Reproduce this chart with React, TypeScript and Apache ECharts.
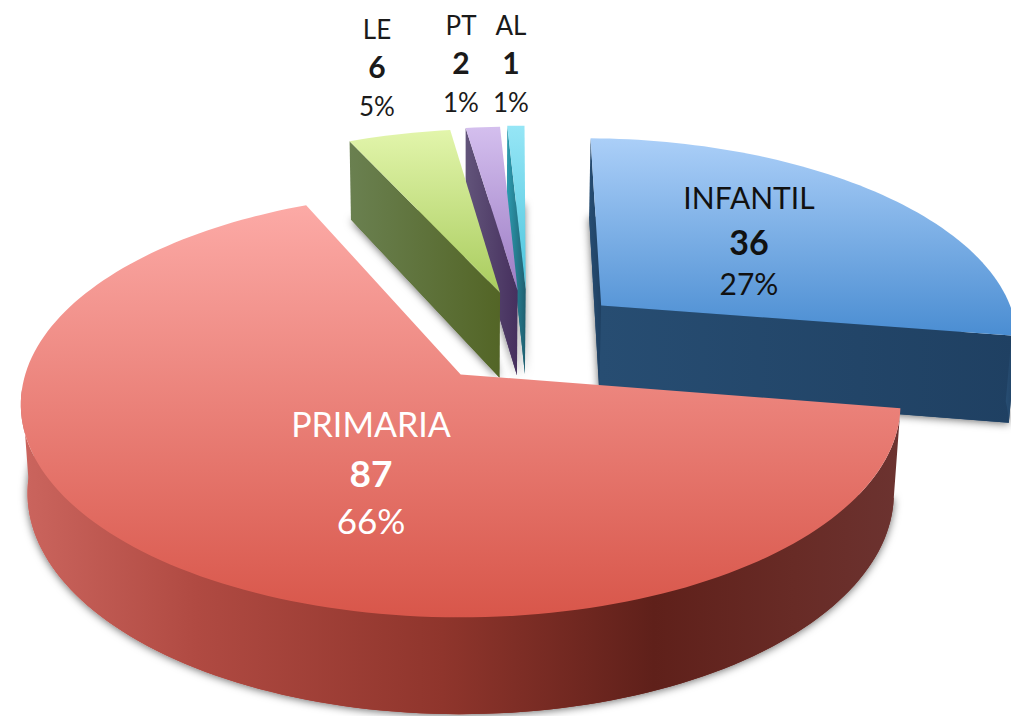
import React, { useEffect, useRef } from "react";
import * as echarts from "echarts";

const categories = ["INFANTIL", "PRIMARIA", "LE", "PT", "AL"];
const values = [36, 87, 6, 2, 1];
const percentLabels = ["27%", "66%", "5%", "1%", "1%"];

const TOTAL = values.reduce((a, b) => a + b, 0);
const WIDTH = 1011;
const HEIGHT = 716;
// Projective camera of the tilted pie (unit circle -> screen)
const CX = 462, CY = 375, C = 435.6, A = 208.8, K = 0.141;
const BOTTOM_H = 90, BOTTOM_Q = 0.02, BOTTOM_C = 1.005;
const FIRST_ANGLE = 0.9;           // degrees clockwise from the back of the pie
const EXPLODE = 0.242;
const ORIGIN = [0.145, -0.194];    // pie centre relative to the camera origin
const WALL_MIN_V = 0.05;           // outer wall shows only on the viewer's side
const nudgeX = [2, 0, 5, 4, 5];
const nudgeY = [0, 0, 2, 1, 0];
const arcScaleX = [0.985, 1, 1, 1, 1];
const layerOf = [4, 5, 3, 2, 1];

const topFills = [
  ["#abcff8", "#4a8dd2"],
  ["#fcaaa6", "#d8564a"],
  ["#e2f5ab", "#a9cc5e"],
  ["#d4bfee", "#9c7cc4"],
  ["#96e6f6", "#4cc5dd"],
];
const faceFills = [
  ["#274d72", "#1f4062"],
  ["#8e352c", "#6c3330"],
  ["#6a8050", "#536526"],
  ["#62547a", "#46305e"],
  ["#2c9cb0", "#1f5f70"],
];
const labelBoxes = [
  { x: 749, y: [197, 241, 283], name: 30, big: 34, pct: 30, color: "#111111" },
  { x: 371, y: [423, 472, 520], name: 34, big: 37, pct: 35, color: "#ffffff" },
  { x: 377, y: [29, 66, 106], name: 26, big: 30, pct: 26, color: "#1a1a1a" },
  { x: 461, y: [25, 62, 102], name: 26, big: 30, pct: 26, color: "#1a1a1a" },
  { x: 511, y: [25, 62, 102], name: 26, big: 30, pct: 26, color: "#1a1a1a" },
];

const rad = (d: number) => (d * Math.PI) / 180;

function top(U: number, V: number, nx: number, ny: number) {
  const w = 1 - K * V;
  return [CX + (C * U) / w + nx, CY + (A * V) / w + ny];
}
function bottom(U: number, V: number, nx: number, ny: number) {
  const w = 1 - K * V + BOTTOM_Q;
  return [CX + (C * BOTTOM_C * U) / w + nx, CY + (A * V + BOTTOM_H) / w + ny];
}

const gradV = (c: string[]) =>
  new echarts.graphic.LinearGradient(0, 0, 0, 1, [
    { offset: 0, color: c[0] },
    { offset: 1, color: c[1] },
  ]);
const gradH = (c: string[]) =>
  new echarts.graphic.LinearGradient(0, 0, 1, 0, [
    { offset: 0, color: c[0] },
    { offset: 1, color: c[1] },
  ]);
const primaryWall = () =>
  new echarts.graphic.LinearGradient(0, 0, 1, 0, [
    { offset: 0, color: "#cb655e" },
    { offset: 0.2, color: "#b04a42" },
    { offset: 0.48, color: "#8f352c" },
    { offset: 0.72, color: "#5f201a" },
    { offset: 0.88, color: "#682b26" },
    { offset: 1, color: "#6c3330" },
  ]);

function renderItem(params: any, api: any) {
  const i = params.dataIndex;
  const before = values.slice(0, i).reduce((a, b) => a + b, 0);
  const a0 = FIRST_ANGLE + (before / TOTAL) * 360;
  const a1 = a0 + (api.value(0) / TOTAL) * 360;
  const mid = rad((a0 + a1) / 2);
  const du = ORIGIN[0] + EXPLODE * Math.sin(mid);
  const dv = ORIGIN[1] - EXPLODE * Math.cos(mid);
  const nx = nudgeX[i];
  const ny = nudgeY[i];

  const steps = Math.max(4, Math.round((a1 - a0) / 1.5));
  const arc: number[][] = [];
  const frontIdx: number[] = [];
  for (let s = 0; s <= steps; s++) {
    const t = rad(a0 + ((a1 - a0) * s) / steps);
    arc.push([du + arcScaleX[i] * Math.sin(t), dv - Math.cos(t)]);
    if (-Math.cos(t) >= WALL_MIN_V) frontIdx.push(s);
  }
  const topArc = arc.map((p) => top(p[0], p[1], nx, ny));
  const botArc = arc.map((p) => bottom(p[0], p[1], nx, ny));
  const apexT = top(du, dv, nx, ny);
  const apexB = bottom(du, dv, nx, ny);
  const base = layerOf[i] * 10;
  const face = faceFills[i];
  const wallFill = () => (i === 1 ? primaryWall() : gradH(face));
  const poly = (points: number[][], fill: any, z2: number, extra: any = {}) => ({
    type: "polygon",
    z2,
    silent: true,
    shape: { points },
    style: { fill, ...extra },
  });

  const children: any[] = [
    poly([apexB, ...botArc], i === 1 ? primaryWall() : face[1], base, {
      shadowBlur: 9,
      shadowColor: "rgba(0,0,0,0.6)",
      shadowOffsetX: 0,
      shadowOffsetY: 1,
    }),
  ];

  // A radial face shows only when the slice's own surface lies above its edge.
  const midTop = topArc[Math.round(steps / 2)];
  [0, steps].forEach((k) => {
    const ex = topArc[k][0] - apexT[0];
    const ey = topArc[k][1] - apexT[1];
    const side = ex * (midTop[1] - apexT[1]) - ey * (midTop[0] - apexT[0]);
    if (side * ex < 0) {
      children.push(poly([apexT, topArc[k], botArc[k], apexB], gradH(face), base + 1));
    }
  });

  if (frontIdx.length > 1) {
    const wt = frontIdx.map((s) => topArc[s]);
    const wb = frontIdx.map((s) => botArc[s]);
    children.push(poly([...wt, ...wb.reverse()], wallFill(), base + 2));
  }
  children.push(poly([apexT, ...topArc], gradV(topFills[i]), base + 3));

  const box = labelBoxes[i];
  const line = (text: string, y: number, size: number, weight: string) => ({
    type: "text",
    z2: 100,
    silent: true,
    style: {
      text,
      x: box.x,
      y,
      align: "center",
      verticalAlign: "middle",
      fontFamily: "Lato",
      fontSize: size,
      fontWeight: weight,
      fill: box.color,
    },
  });
  children.push(
    line(categories[i], box.y[0], box.name, "normal"),
    line(String(api.value(0)), box.y[1], box.big, "bold"),
    line(percentLabels[i], box.y[2], box.pct, "normal")
  );
  return { type: "group", children };
}

export default function App() {
  const ref = useRef<HTMLDivElement>(null);
  useEffect(() => {
    document.body.style.margin = "0";
    const chart = echarts.init(ref.current!, null, { renderer: "svg" });
    chart.setOption({
      animation: false,
      backgroundColor: "#ffffff",
      series: [
        {
          type: "custom",
          coordinateSystem: "none",
          clip: false,
          data: values.map((v) => [v]),
          renderItem,
        },
      ],
    });
    return () => chart.dispose();
  }, []);
  return <div ref={ref} style={{ width: WIDTH, height: HEIGHT }} />;
}
